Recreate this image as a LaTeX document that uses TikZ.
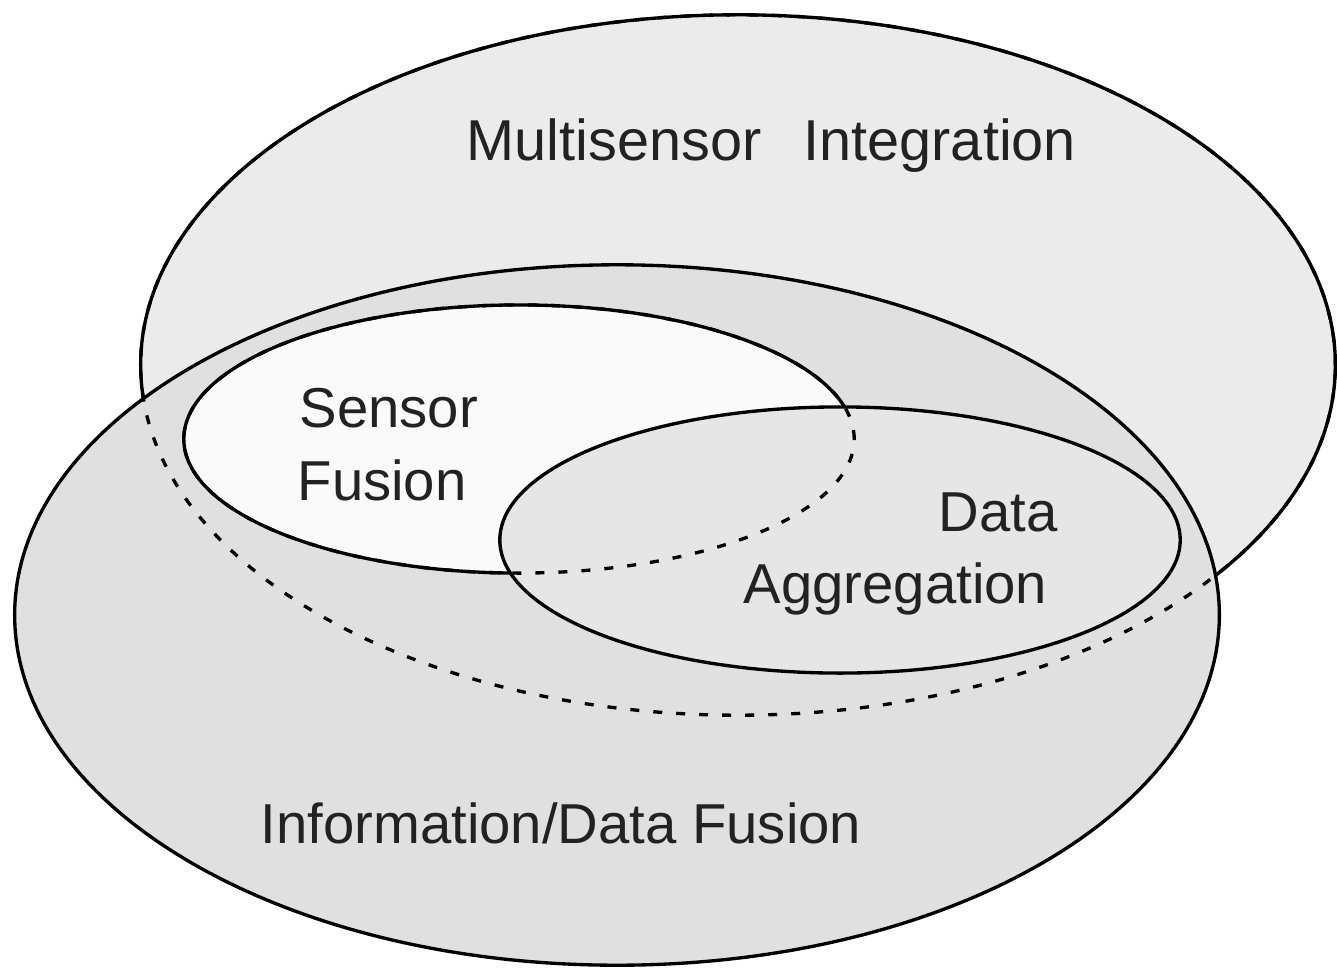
\documentclass[tikz,border=0pt]{standalone}
\usepackage{fontspec}
\setmainfont{Liberation Sans}
\definecolor{multifill}{HTML}{EBEBEB}
\definecolor{infofill}{HTML}{E0E0E0}
\definecolor{sensorfill}{HTML}{FAFAFA}
\definecolor{datafill}{HTML}{E6E6E6}
\definecolor{txt}{HTML}{222222}
\tikzset{
  outline/.style={draw=black, line width=0.95pt},
  hidden/.style={draw=black, line width=0.95pt, dash pattern=on 0.09cm off 0.14cm},
  label/.style={inner sep=0pt, anchor=base west, text=txt, font=\fontsize{16}{19}\selectfont}
}
\begin{document}
\begin{tikzpicture}[x=0.01cm, y=-0.01cm]
\useasboundingbox (0,0) rectangle (1337,970);
% Multisensor Integration
\path[fill=multifill, outline] (738,365) ellipse [x radius=5.97cm, y radius=3.5cm];
% Information/Data Fusion
\path[fill=infofill] (617,615) ellipse [x radius=6.02cm, y radius=3.5cm];
\path[hidden] (738,365) ellipse [x radius=5.97cm, y radius=3.5cm];
\path[outline] (617,615) ellipse [x radius=6.02cm, y radius=3.5cm];
% Sensor Fusion
\path[fill=sensorfill, outline] (519,439) ellipse [x radius=3.35cm, y radius=1.34cm];
% Data Aggregation
\path[fill=datafill] (840,540) ellipse [x radius=3.4cm, y radius=1.33cm];
\path[hidden] (519,439) ellipse [x radius=3.35cm, y radius=1.34cm];
\path[outline] (840,540) ellipse [x radius=3.4cm, y radius=1.33cm];
% labels
\node[label, font=\fontsize{16.4}{19}\selectfont] (multi) at (466,161) {Multisensor\hspace{0.42cm}Integration};
\node[label] (sensor) at (299,427) {Sensor};
\node[label] (fusion) at (297,500) {Fusion};
\node[label] (data) at (938,531) {Data};
\node[label] (aggr) at (743,603) {Aggregation};
\node[label] (info) at (260,843) {Information/Data Fusion};
\end{tikzpicture}
\end{document}
